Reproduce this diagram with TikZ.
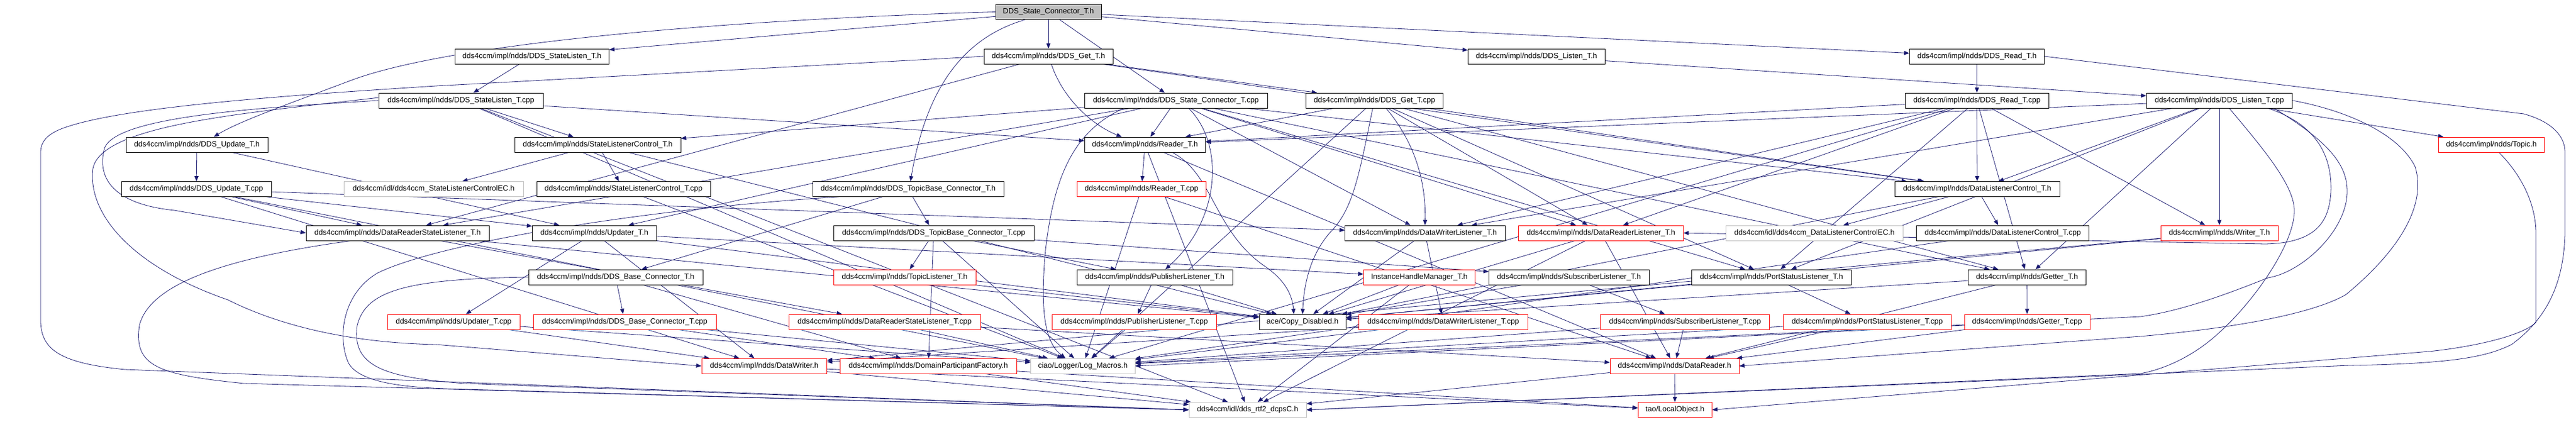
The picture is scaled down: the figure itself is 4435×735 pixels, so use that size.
\documentclass[tikz,border=0pt]{standalone}
\usepackage{fontspec}
\setmainfont{Liberation Sans}
\usetikzlibrary{arrows.meta}
\pgfdeclarelayer{bg}
\pgfsetlayers{bg,main}
\definecolor{edgec}{HTML}{191970}
\definecolor{grayb}{HTML}{BFBFBF}
\newcommand{\ndpath}{dds4ccm/impl/ndds/}
\begin{document}
\begin{tikzpicture}[x=1pt, y=-1pt,
  fb/.style={draw, fill=white, line width=0.8pt, minimum height=26pt, inner sep=0pt, font=\fontsize{13}{15.6}\selectfont, text=black},
  bk/.style={fb, draw=black},
  rd/.style={fb, draw=red},
  gy/.style={fb, draw=grayb},
  rt/.style={fb, draw=black, fill=grayb},
  e/.style={draw=edgec, line width=0.8pt, -{Triangle[length=9pt,width=7pt]}}]
% row 0
\node[rt, minimum width=182pt] (root) at (1805,20.5) {DDS\_State\_Connector\_T.h};
% row 1
\node[bk, minimum width=265.5pt] (stlisth) at (915.75,97) {\ndpath DDS\_StateListen\_T.h};
\node[bk, minimum width=222pt] (geth) at (1805,97) {\ndpath DDS\_Get\_T.h};
\node[bk, minimum width=235.5pt] (listenh) at (2645.25,97) {\ndpath DDS\_Listen\_T.h};
\node[bk, minimum width=232pt] (readh) at (3403.6,97) {\ndpath DDS\_Read\_T.h};
% row 2
\node[bk, minimum width=283pt] (stlistcpp) at (793.5,173) {\ndpath DDS\_StateListen\_T.cpp};
\node[bk, minimum width=315pt] (stconcpp) at (2024.5,173) {\ndpath DDS\_State\_Connector\_T.cpp};
\node[bk, minimum width=235.3pt] (getcpp) at (2366.35,173) {\ndpath DDS\_Get\_T.cpp};
\node[bk, minimum width=247pt] (readcpp) at (3403.5,173) {\ndpath DDS\_Read\_T.cpp};
\node[bk, minimum width=251pt] (listencpp) at (3821,173) {\ndpath DDS\_Listen\_T.cpp};
% row 3
\node[bk, minimum width=244pt] (updh) at (339,249) {\ndpath DDS\_Update\_T.h};
\node[bk, minimum width=286pt] (slch) at (1029,249) {\ndpath StateListenerControl\_T.h};
\node[bk, minimum width=208.5pt] (readerh) at (1971.25,249) {\ndpath Reader\_T.h};
\node[rd, minimum width=182.5pt] (topich) at (4289.25,249) {\ndpath Topic.h};
% row 4
\node[bk, minimum width=258pt] (updcpp) at (338,325.5) {\ndpath DDS\_Update\_T.cpp};
\node[gy, minimum width=309pt] (slcec) at (746.5,325.5) {dds4ccm/idl/dds4ccm\_StateListenerControlEC.h};
\node[bk, minimum width=299pt] (slccpp) at (1073.5,325.5) {\ndpath StateListenerControl\_T.cpp};
\node[bk, minimum width=329pt] (tbch) at (1563.5,325.5) {\ndpath DDS\_TopicBase\_Connector\_T.h};
\node[rd, minimum width=222.5pt] (readercpp) at (1965.25,325.5) {\ndpath Reader\_T.cpp};
\node[bk, minimum width=284pt] (dlch) at (3404,325.5) {\ndpath DataListenerControl\_T.h};
% row 5
\node[bk, minimum width=315pt] (drslh) at (684.5,401) {\ndpath DataReaderStateListener\_T.h};
\node[bk, minimum width=213.5pt] (updaterh) at (1023.25,401) {\ndpath Updater\_T.h};
\node[bk, minimum width=345pt] (tbccpp) at (1607.5,401) {\ndpath DDS\_TopicBase\_Connector\_T.cpp};
\node[bk, minimum width=275.3pt] (dwlh) at (2453.35,401) {\ndpath DataWriterListener\_T.h};
\node[rd, minimum width=283.4pt] (drlh) at (2756.3,401) {\ndpath DataReaderListener\_T.h};
\node[gy, minimum width=305.6pt] (dlcec) at (3123.8,401) {dds4ccm/idl/dds4ccm\_DataListenerControlEC.h};
\node[bk, minimum width=297pt] (dlccpp) at (3448.1,401) {\ndpath DataListenerControl\_T.cpp};
\node[rd, minimum width=202pt] (writerh) at (3821,401) {\ndpath Writer\_T.h};
% row 6
\node[bk, minimum width=300pt] (bch) at (1060,477) {\ndpath DDS\_Base\_Connector\_T.h};
\node[rd, minimum width=245pt] (tlh) at (1557.5,477) {\ndpath TopicListener\_T.h};
\node[bk, minimum width=267.5pt] (plh) at (1988.25,477) {\ndpath PublisherListener\_T.h};
\node[rd, minimum width=191.8pt] (ihm) at (2443.6,477) {InstanceHandleManager\_T.h};
\node[bk, minimum width=275.6pt] (slh) at (2701.2,477) {\ndpath SubscriberListener\_T.h};
\node[bk, minimum width=274.4pt] (pslh) at (3049.8,477) {\ndpath PortStatusListener\_T.h};
\node[bk, minimum width=202.4pt] (getterh) at (3489.8,477) {\ndpath Getter\_T.h};
% row 7
\node[rd, minimum width=228pt] (updatercpp) at (781,554) {\ndpath Updater\_T.cpp};
\node[rd, minimum width=315pt] (bccpp) at (1075.5,554) {\ndpath DDS\_Base\_Connector\_T.cpp};
\node[rd, minimum width=330pt] (drslcpp) at (1523,554) {\ndpath DataReaderStateListener\_T.cpp};
\node[rd, minimum width=282.5pt] (plcpp) at (1952.75,554) {\ndpath PublisherListener\_T.cpp};
\node[bk, minimum width=149pt] (copyd) at (2242.5,554) {ace/Copy\_Disabled.h};
\node[rd, minimum width=290.4pt] (dwlcpp) at (2484.8,554) {\ndpath DataWriterListener\_T.cpp};
\node[rd, minimum width=290.9pt] (slcpp) at (2901.15,554) {\ndpath SubscriberListener\_T.cpp};
\node[rd, minimum width=288.5pt] (pslcpp) at (3214.75,554) {\ndpath PortStatusListener\_T.cpp};
\node[rd, minimum width=216pt] (gettercpp) at (3490,554) {\ndpath Getter\_T.cpp};
% row 8
\node[rd, minimum width=215.5pt] (dwh) at (1315.75,630) {\ndpath DataWriter.h};
\node[rd, minimum width=303.5pt] (dpf) at (1598.25,630) {\ndpath DomainParticipantFactory.h};
\node[gy, minimum width=179.4pt] (logm) at (1864.3,630) {ciao/Logger/Log\_Macros.h};
\node[rd, minimum width=222pt] (drh) at (2883,630) {\ndpath DataReader.h};
% row 9
\node[gy, minimum width=202pt] (dcps) at (2148,705.5) {dds4ccm/idl/dds\_rtf2\_dcpsC.h};
\node[rd, minimum width=127.5pt] (lobj) at (2883.75,705.5) {tao/LocalObject.h};

\begin{pgfonlayer}{bg}
\fill[white] (0,0) rectangle (4435,735);
\foreach \s/\t in {root/stlisth, root/geth, root/stconcpp, root/listenh, root/readh,
  stlisth/stlistcpp,
  geth/getcpp, geth/dlch, geth/drslh,
  listenh/listencpp,
  readh/readcpp,
  stlistcpp/slch, stlistcpp/readerh, stlistcpp/dcps, stlistcpp/logm,
  stconcpp/slch, stconcpp/updaterh, stconcpp/drslh, stconcpp/readerh, stconcpp/dwlh, stconcpp/drlh, stconcpp/pslh, stconcpp/getterh, stconcpp/dlch,
  getcpp/readerh, getcpp/drlh, getcpp/dlch, getcpp/pslh, getcpp/getterh, getcpp/logm,
  readcpp/readerh, readcpp/dwlh, readcpp/drlh, readcpp/dlch, readcpp/pslh, readcpp/getterh, readcpp/writerh, readcpp/logm,
  listencpp/topich, listencpp/writerh, listencpp/readerh, listencpp/dlch, listencpp/dwlh, listencpp/pslh, listencpp/getterh,
  updh/updcpp, updh/updaterh,
  updcpp/drslh, updcpp/updaterh, updcpp/dwlh, updcpp/dwh, updcpp/logm,
  slch/slcec, slch/slccpp, slch/copyd,
  slccpp/logm,
  readerh/readercpp, readerh/drh, readerh/dcps,
  readercpp/logm, readercpp/drh,
  tbch/tbccpp, tbch/bch,
  tbccpp/tlh, tbccpp/plh, tbccpp/slh, tbccpp/logm, tbccpp/dpf,
  drslh/drslcpp, drslh/copyd,
  updaterh/updatercpp, updaterh/ihm, updaterh/copyd, updaterh/dwh,
  dwlh/dwlcpp, dwlh/copyd,
  drlh/copyd, drlh/drh, drlh/dcps,
  dlch/dlcec, dlch/dlccpp, dlch/copyd,
  dlccpp/logm,
  writerh/dwh, writerh/copyd,
  bch/bccpp, bch/dpf,
  tlh/copyd,
  plh/plcpp, plh/copyd,
  ihm/copyd, ihm/dcps,
  slh/slcpp, slh/copyd,
  pslh/pslcpp, pslh/copyd,
  getterh/gettercpp, getterh/copyd, getterh/drh,
  updatercpp/dwh, updatercpp/logm,
  bccpp/dpf, bccpp/logm,
  drslcpp/logm, drslcpp/drh,
  plcpp/logm,
  dwlcpp/logm, dwlcpp/dwh,
  slcpp/drh, slcpp/logm,
  pslcpp/drh, pslcpp/logm,
  gettercpp/drh, gettercpp/logm,
  dwh/dcps, dwh/lobj,
  dpf/dcps, dpf/lobj,
  drh/lobj, drh/dcps}
  \draw[e] (\s) -- (\t);
% curved connectors
\draw[e] (root.west) .. controls (1300,32) and (780,70) .. (600,140) .. controls (480,185) and (410,210) .. ([xshift=29pt]updh.north);
\draw[e] ([xshift=-40pt]root.south) .. controls (1640,70) and (1590,180) .. ([xshift=4pt]tbch.north);
\draw[e] ([xshift=5pt]geth.south) .. controls (1830,170) and (1880,215) .. ([xshift=-40pt]readerh.north);
\draw[e] (geth.west) -- (750,148) .. controls (480,165) and (200,185) .. (105,222) .. controls (80,232) and (70,245) .. (70,262) -- (70,555) .. controls (72,600) and (100,625) .. (215,636) -- (dcps.west);
\draw[e] (readh.east) -- (4345,196) .. controls (4395,210) and (4416,235) .. (4416,262) -- (4416,402) .. controls (4414,480) and (4390,545) .. (4324,593) .. controls (4280,615) and (4220,626) .. (4044,629) -- (dcps.east);
\draw[e] (stlistcpp.west) .. controls (450,185) and (200,200) .. (180,255) .. controls (165,310) and (200,352) .. (300,362) -- (drslh.west);
\draw[e] ([yshift=5pt]stlistcpp.west) .. controls (420,195) and (175,215) .. (160,290) .. controls (150,370) and (230,460) .. (392,516) .. controls (480,560) and (600,590) .. (750,593) -- (dwh.west);
\draw[e] ([xshift=-90pt]stconcpp.south) .. controls (1850,225) and (1815,300) .. (1800,430) .. controls (1790,540) and (1800,590) .. ([xshift=-30pt]logm.north);
\draw[e] ([xshift=22pt]stconcpp.south) .. controls (2110,250) and (2100,380) .. ([xshift=18pt]plh.north);
\draw[e] ([xshift=-3pt]getcpp.south) .. controls (2340,300) and (2330,360) .. (2290,400) .. controls (2255,440) and (2245,490) .. (copyd.north);
\draw[e] ([xshift=20pt]getcpp.south) .. controls (2440,250) and (2455,320) .. (dwlh.north);
\draw[e] ([xshift=84pt]listencpp.south) .. controls (3990,215) and (4015,270) .. (4013,330) .. controls (4010,380) and (3990,418) .. (3900,420) -- (drlh.east);
\draw[e] ([xshift=94pt]listencpp.south) .. controls (4020,250) and (4041,290) .. (4041,330) .. controls (4040,400) and (3960,470) .. (3905,478) .. controls (3850,500) and (3760,535) .. (3685,545) -- (logm.east);
\draw[e] ([xshift=17pt]listencpp.south) .. controls (3900,260) and (3950,320) .. (3950,363) .. controls (3950,420) and (3880,520) .. (3819,574) .. controls (3780,610) and (3730,635) .. (3685,643) -- (dcps.east);
\draw[e] (listencpp.east) .. controls (4040,190) and (4130,230) .. (4158,287) .. controls (4180,360) and (4120,440) .. (4039,507) .. controls (4000,530) and (3900,560) .. (3685,579) -- (drh.east);
\draw[e] ([xshift=47pt]readerh.south) .. controls (2090,300) and (2090,400) .. (2180,460) .. controls (2215,485) and (2225,510) .. ([xshift=-15pt]copyd.north);
\draw[e] ([xshift=-120pt]tbch.south) .. controls (1100,360) and (750,420) .. (650,470) .. controls (590,505) and (580,580) .. (600,625) .. controls (620,660) and (700,668) .. (800,670) -- (dcps.west);
\draw[e] ([xshift=-80pt]drslh.south) .. controls (420,440) and (260,480) .. (240,560) .. controls (230,630) and (270,645) .. (420,660) -- (dcps.west);
\draw[e] (bch.west) .. controls (700,480) and (630,500) .. (615,560) .. controls (605,630) and (660,650) .. (800,660) -- (dcps.west);
\draw[e] ([xshift=13pt]topich.south) .. controls (4340,300) and (4366,350) .. (4366,402) -- (4366,555) .. controls (4340,580) and (4250,598) .. (4182,605) -- (lobj.east);
\end{pgfonlayer}
\end{tikzpicture}
\end{document}
